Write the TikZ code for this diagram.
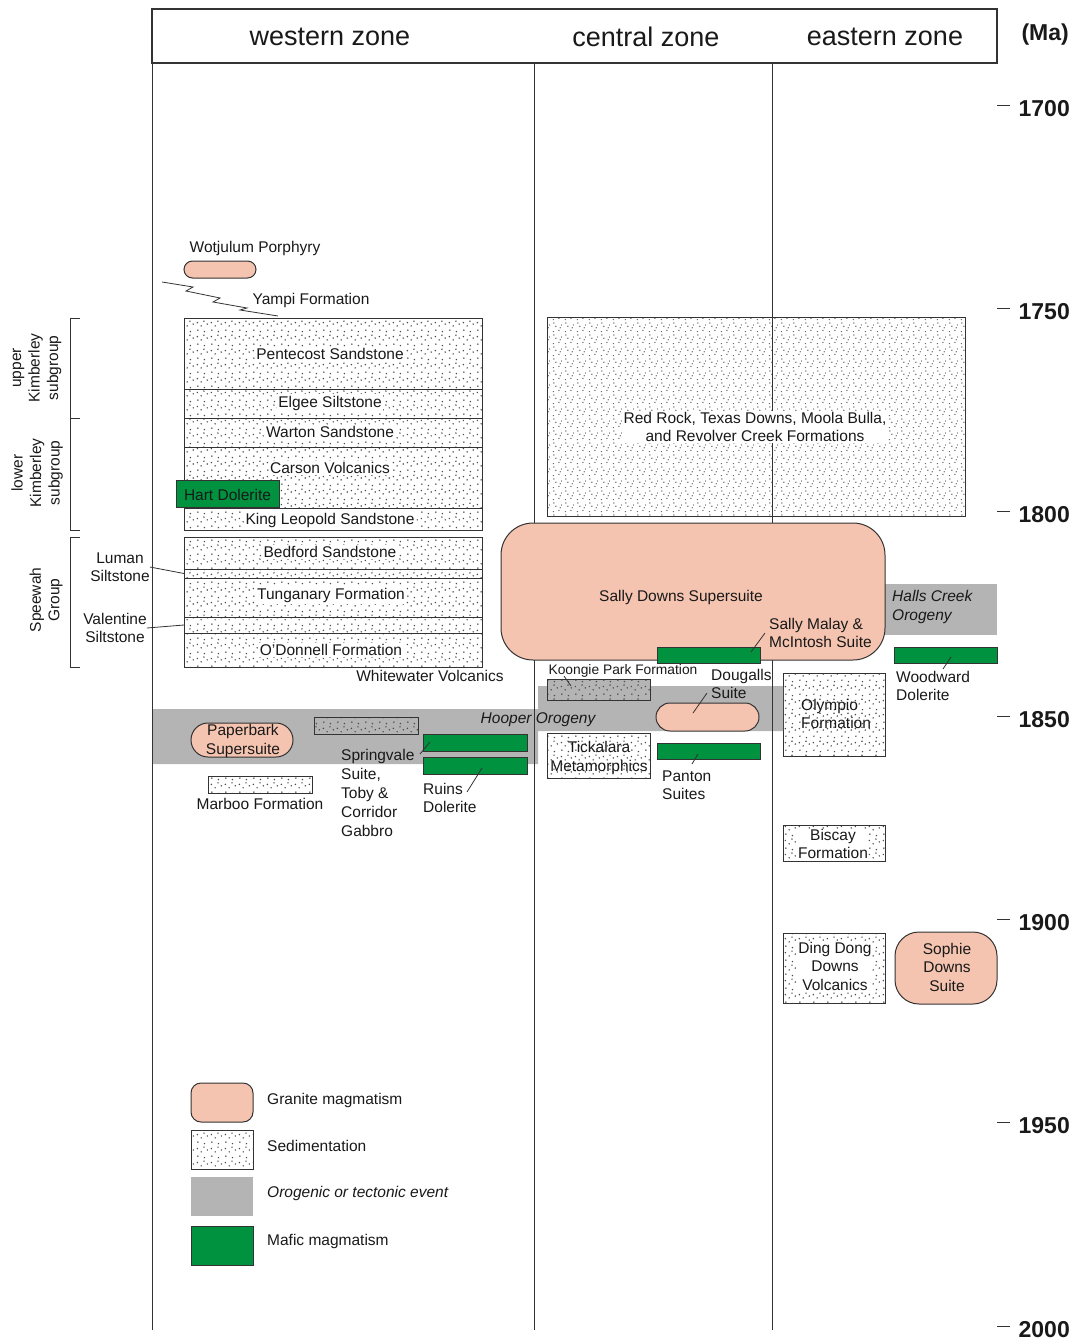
\documentclass[tikz,border=0pt]{standalone}
\usepackage{fontspec}
\setmainfont{Liberation Sans}
\usetikzlibrary{patterns.meta}
\definecolor{granite}{HTML}{F4C4B0}
\definecolor{mafic}{HTML}{00923F}
\definecolor{orogc}{HTML}{B4B4B4}
\definecolor{edgec}{HTML}{333333}
\tikzdeclarepattern{
  name=seddots, type=colored,
  bottom left={(0pt,0pt)}, top right={(14pt,14pt)}, tile size={(14pt,14pt)},
  code={
    \tikzset{x=1pt,y=1pt}
    \fill[black!70] (2,3) circle (0.85) (9,1.5) circle (0.85) (5.5,7.5) circle (0.85)
      (12,9.5) circle (0.85) (1.5,11) circle (0.85) (8.5,12.5) circle (0.85);
  }
}
\tikzdeclarepattern{
  name=seddense, type=colored,
  bottom left={(0pt,0pt)}, top right={(12pt,12pt)}, tile size={(12pt,12pt)},
  code={
    \tikzset{x=1pt,y=1pt}
    \fill[black!65] (1.5,1.5) circle (0.75) (7.5,2.8) circle (0.75) (4.2,7.3) circle (0.75)
      (10.3,8.6) circle (0.75) (2.0,10.8) circle (0.75) (8.8,5.6) circle (0.75);
  }
}
\begin{document}
\begin{tikzpicture}[x=1pt,y=-1pt,
  lbl/.style={font=\fontsize{15.5}{18.5}\selectfont, inner sep=0pt, align=center, text=black!90},
  lblit/.style={lbl, font=\fontsize{15.5}{18.5}\selectfont\itshape},
  wbg/.style={fill=white, inner sep=1.5pt},
  bx/.style 2 args={minimum width=#1pt, minimum height=#2pt, anchor=north west, inner sep=0pt, outer sep=0pt},
  sed/.style={draw=edgec, line width=1pt, pattern=seddots},
  sedgray/.style={draw=edgec, line width=1pt, preaction={fill=orogc}, pattern=seddots},
  gran/.style={draw=edgec, line width=1pt, fill=granite},
  maf/.style={draw=edgec, line width=1pt, fill=mafic},
  orogfill/.style={fill=orogc},
  lead/.style={line width=0.8pt, draw=edgec},
  axlbl/.style={font=\fontsize{23}{26}\selectfont\bfseries, inner sep=0pt, anchor=east, text=black!90},
  hdr/.style={font=\fontsize{27}{30}\selectfont, inner sep=0pt, text=black!90}
]
\useasboundingbox (0,0) rectangle (1075,1341);

% ---------- sedimentation boxes ----------
\node[sed, bx={298}{71}] (pent) at (184,318) {};
\node[sed, bx={298}{29}] (elgee) at (184,389) {};
\node[sed, bx={298}{29}] (warton) at (184,418) {};
\node[sed, bx={298}{61}] (carson) at (184,447) {};
\node[sed, bx={298}{22}] (kingl) at (184,508) {};
\node[sed, bx={298}{32}] (bedford) at (184,537) {};
\node[sed, bx={298}{9}] (luman) at (184,569) {};
\node[sed, bx={298}{39}] (tung) at (184,578) {};
\node[sed, bx={298}{16}] (valent) at (184,617) {};
\node[sed, bx={298}{34}] (odon) at (184,633) {};
\node[draw=edgec, line width=1pt, pattern=seddense, bx={418}{199}] (redrock) at (547,317) {};
\node[sed, bx={104}{17}] (marboo) at (208,776) {};
\node[sed, bx={103}{45}] (tick) at (547,733) {};
\node[sed, bx={102}{83}] (olymp) at (783,673) {};
\node[sed, bx={102}{36}] (biscay) at (783,825) {};
\node[sed, bx={102}{70}] (dingdong) at (783,933) {};

% ---------- orogenic events ----------
\node[orogfill, bx={112}{51}] (halls) at (885,584) {};
\fill[orogc] (152,709) -- (538,709) -- (538,686) -- (783,686) -- (783,731)
  -- (538,731) -- (538,764) -- (152,764) -- cycle;
\node[sedgray, bx={104}{17}] (hoopsed) at (314,717) {};
\node[sedgray, bx={103}{21}] (koongie) at (547,679) {};

% ---------- frame and zone dividers ----------
\node[draw=edgec, line width=1.2pt, bx={845}{54}] (header) at (152,9) {};
\draw[edgec, line width=1pt] (header.north west) -- (152,1330);
\draw[edgec, line width=1pt] (534,63) -- (534,1330);
\draw[edgec, line width=1pt] (772,63) -- (772,1330);
\node[hdr] (hw) at (330,37) {western zone};
\node[hdr] (hc) at (646,37) {central zone};
\node[hdr] (he) at (885,37) {eastern zone};

% ---------- granite and mafic bodies ----------
\node[gran, bx={72}{17}, rounded corners=8.5pt] (wotj) at (184,261) {};
\node[gran, bx={384}{137}, rounded corners=32pt] (sally) at (501,523) {};
\node[gran, bx={102}{34}, rounded corners=17pt] (paper) at (191,723) {};
\node[gran, bx={103}{28}, rounded corners=14pt] (dougalls) at (656,703) {};
\node[gran, bx={102}{72}, rounded corners=24pt] (sophie) at (895,932) {};
\node[maf, bx={103}{27}] (hart) at (176,480) {};
\node[maf, bx={103}{16}] (smalay) at (657,647) {};
\node[maf, bx={103}{16}] (woodw) at (894,647) {};
\node[maf, bx={103}{16}] (panton) at (657,743) {};
\node[maf, bx={104}{17}] (springA) at (423,734) {};
\node[maf, bx={104}{17}] (springB) at (423,757) {};

% ---------- texts ----------
\node[lbl] (t-wotj) at (255,248) {Wotjulum Porphyry};
\node[lbl] (t-yampi) at (311,300) {Yampi Formation};
\node[lbl, wbg] (t-pent) at (330,354) {Pentecost Sandstone};
\node[lbl, wbg] (t-elgee) at (330,403) {Elgee Siltstone};
\node[lbl, wbg] (t-warton) at (330,432) {Warton Sandstone};
\node[lbl, wbg] (t-carson) at (330,468) {Carson Volcanics};
\node[lbl, wbg] (t-kingl) at (330,520) {King Leopold Sandstone};
\node[lbl] (t-hart) at ([yshift=-1pt]hart.center) {Hart Dolerite};
\node[lbl, wbg] (t-bedford) at (330,552) {Bedford Sandstone};
\node[lbl, wbg] (t-tung) at (331,595) {Tunganary Formation};
\node[lbl, wbg] (t-odon) at (331,650) {O'Donnell Formation};
\node[lbl] (t-white) at (430,676) {Whitewater Volcanics};
\node[lbl] (t-luman) at (120,567) {Luman\\Siltstone};
\node[lbl] (t-valent) at (115,628) {Valentine\\Siltstone};
\node[lbl, rotate=90] (t-upper) at (37,368) {upper\\Kimberley\\subgroup};
\node[lbl, rotate=90] (t-lower) at (37,473) {lower\\Kimberley\\subgroup};
\node[lbl, rotate=90] (t-speewah) at (46,600) {Speewah\\Group};
\node[lbl, wbg] (t-redrock) at (755,427) {Red Rock, Texas Downs, Moola Bulla,\\and Revolver Creek Formations};
\node[lbl] (t-sally) at (681,597) {Sally Downs Supersuite};
\node[lbl, align=left, anchor=west] (t-smalay) at (769,633) {Sally Malay \&\\McIntosh Suite};
\node[lblit, align=left, anchor=west] (t-halls) at (892,607) {Halls Creek\\Orogeny};
\node[lbl, align=left, anchor=west] (t-woodw) at (896,686) {Woodward\\Dolerite};
\node[lbl, font=\fontsize{13.8}{16}\selectfont] (t-koongie) at (623,671) {Koongie Park Formation};
\node[lbl, align=left, anchor=west] (t-dougalls) at (711,684) {Dougalls\\Suite};
\node[lblit] (t-hooper) at (538,720) {Hooper Orogeny};
\node[lbl] (t-tick) at (599,758) {Tickalara\\Metamorphics};
\node[lbl, align=left, anchor=west] (t-panton) at (662,785) {Panton\\Suites};
\node[lbl] (t-paper) at (243,741) {Paperbark\\Supersuite};
\node[lbl, align=left, anchor=west, font=\fontsize{15.5}{19}\selectfont] (t-spring) at (341,793) {Springvale\\Suite,\\Toby \&\\Corridor\\Gabbro};
\node[lbl, align=left, anchor=west] (t-ruins) at (423,798) {Ruins\\Dolerite};
\node[lbl] (t-marboo) at (260,804) {Marboo Formation};
\node[lbl, align=left, anchor=west] (t-olymp) at (801,714) {Olympio\\Formation};
\node[lbl, wbg, inner sep=0.5pt] (t-biscay) at (833,844) {Biscay\\Formation};
\node[lbl, wbg, inner sep=0.5pt] (t-dingdong) at (835,966) {Ding Dong\\Downs\\Volcanics};
\node[lbl] (t-sophie) at (947,967) {Sophie\\Downs\\Suite};

% ---------- leaders ----------
\draw[lead] (162,282) -- (193,287) -- (186,291) -- (220,298) -- (213,302)
  -- (247,308) -- (240,310) -- (278,316);
\draw[lead] (t-luman.east) -- (luman.west);
\draw[lead] (t-valent.east) -- (valent.west);
\coordinate (sm1) at (765,633); \coordinate (sm2) at (751,652);
\draw[lead] (sm1) -- (sm2);
\coordinate (ww1) at (951,657); \coordinate (ww2) at (943,669);
\draw[lead] (ww1) -- (ww2);
\coordinate (kp1) at (564,676); \coordinate (kp2) at (571,686);
\draw[lead] (kp1) -- (kp2);
\coordinate (dg1) at (707,693); \coordinate (dg2) at (693,713);
\draw[lead] (dg1) -- (dg2);
\coordinate (pt1) at (698,754); \coordinate (pt2) at (692,764);
\draw[lead] (pt1) -- (pt2);
\coordinate (sp1) at (420,754); \coordinate (sp2) at (430,742);
\draw[lead] (sp1) -- (sp2);
\coordinate (ru1) at (467,792); \coordinate (ru2) at (482,768);
\draw[lead] (ru1) -- (ru2);

% ---------- brackets ----------
\draw[edgec, line width=1pt] (80,318) -- (70,318) -- (70,530) -- (80,530);
\draw[edgec, line width=1pt] (70,418) -- (80,418);
\draw[edgec, line width=1pt] (80,537) -- (70,537) -- (70,667) -- (80,667);

% ---------- time axis ----------
\node[axlbl] (ma) at (1069,35) {(Ma)};
\foreach \yy/\lab in {109/1700,312/1750,515/1800,720/1850,923/1900,1126/1950,1330/2000}{
  \draw[edgec, line width=1pt] (997,\yy-4) -- (1010,\yy-4);
  \node[axlbl] (a\lab) at (1070,\yy) {\lab};
}

% ---------- legend ----------
\node[gran, bx={62}{39}, rounded corners=10pt] (lg1) at (191,1083) {};
\node[sed, bx={62}{39}] (lg2) at (191,1130) {};
\node[orogfill, bx={62}{39}] (lg3) at (191,1177) {};
\node[maf, bx={62}{39}] (lg4) at (191,1226) {};
\node[lbl, anchor=west] (lt1) at (267,1100) {Granite magmatism};
\node[lbl, anchor=west] (lt2) at (267,1146) {Sedimentation};
\node[lblit, anchor=west] (lt3) at (267,1193) {Orogenic or tectonic event};
\node[lbl, anchor=west] (lt4) at (267,1241) {Mafic magmatism};
\end{tikzpicture}
\end{document}
